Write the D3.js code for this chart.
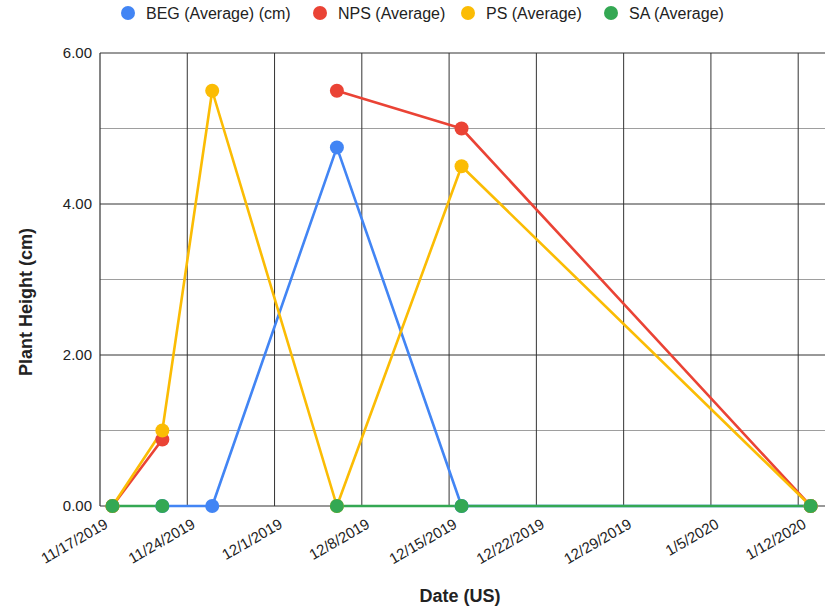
<!DOCTYPE html>
<html>
<head>
<meta charset="utf-8">
<script src="https://cdn.jsdelivr.net/npm/d3@7"></script>
<style>
  body { margin: 0; background: #fff; }
  svg { display: block; font-family: "Liberation Sans", Arial, sans-serif; }
</style>
</head>
<body>
<svg id="chart" width="827" height="609"></svg>
<script>
// Measurement dates (US format) and per-series averages; null = no reading
const dates = ["11/18/2019", "11/22/2019", "11/26/2019", "12/6/2019", "12/16/2019", "1/13/2020"];
const begValues = [null, 0, 0, 4.75, 0, 0];
const npsValues = [0, 0.88, null, 5.5, 5.0, 0];
const psValues  = [0, 1.0, 5.5, 0, 4.5, 0];
const saValues  = [0, 0, null, 0, 0, 0];

const seriesNames = ["BEG (Average) (cm)", "NPS (Average)", "PS (Average)", "SA (Average)"];
const seriesColors = ["#4285F4", "#EA4335", "#FBBC04", "#34A853"];

const xTickLabels = ["11/17/2019", "11/24/2019", "12/1/2019", "12/8/2019", "12/15/2019",
                     "12/22/2019", "12/29/2019", "1/5/2020", "1/12/2020"];
const yTickValues = [0, 2, 4, 6];
const yMinorValues = [1, 3, 5];

const parse = d3.timeParse("%m/%d/%Y");
const fmt = d3.timeFormat("%-m/%-d/%Y");

const svg = d3.select("#chart");
const plotLeft = 100, plotRight = 825, plotTop = 53, plotBottom = 506;

const xStart = parse("11/17/2019");
const xEnd = new Date(xStart.getTime() + 58.15 * 864e5);
const x = d3.scaleTime().domain([xStart, xEnd]).range([plotLeft, plotRight]);
const y = d3.scaleLinear().domain([0, 6]).range([plotBottom, plotTop]);

const tickDates = xTickLabels.map(parse);

// minor horizontal gridlines
svg.append("g").selectAll("line").data(yMinorValues).join("line")
  .attr("x1", plotLeft).attr("x2", plotRight)
  .attr("y1", d => y(d)).attr("y2", d => y(d))
  .attr("stroke", "#9e9e9e").attr("stroke-width", 1);

// major horizontal gridlines
svg.append("g").selectAll("line").data(yTickValues.filter(v => v !== 0)).join("line")
  .attr("x1", plotLeft).attr("x2", plotRight)
  .attr("y1", d => y(d)).attr("y2", d => y(d))
  .attr("stroke", "#333").attr("stroke-width", 1);

// vertical gridlines at weekly ticks
svg.append("g").selectAll("line").data(tickDates.slice(1)).join("line")
  .attr("x1", d => x(d)).attr("x2", d => x(d))
  .attr("y1", plotTop).attr("y2", plotBottom)
  .attr("stroke", "#333").attr("stroke-width", 1);

// axis baselines
svg.append("line").attr("x1", plotLeft).attr("x2", plotLeft).attr("y1", plotTop).attr("y2", plotBottom)
  .attr("stroke", "#333").attr("stroke-width", 1.2);
svg.append("line").attr("x1", plotLeft).attr("x2", plotRight).attr("y1", plotBottom).attr("y2", plotBottom)
  .attr("stroke", "#333").attr("stroke-width", 1.2);

// y tick labels
svg.append("g").selectAll("text").data(yTickValues).join("text")
  .attr("x", plotLeft - 8).attr("y", d => y(d) + 5)
  .attr("text-anchor", "end").attr("font-size", 15).attr("fill", "#222")
  .text(d => d.toFixed(2));

// x tick labels, slanted
svg.append("g").selectAll("text").data(tickDates).join("text")
  .attr("transform", d => `translate(${x(d) + 9},${plotBottom + 21}) rotate(-30)`)
  .attr("text-anchor", "end").attr("font-size", 15).attr("fill", "#222")
  .text(d => fmt(d));

// axis titles
svg.append("text")
  .attr("transform", `translate(32,302) rotate(-90)`)
  .attr("text-anchor", "middle").attr("font-size", 18).attr("font-weight", "bold").attr("fill", "#222")
  .text("Plant Height (cm)");
svg.append("text")
  .attr("x", 460).attr("y", 602)
  .attr("text-anchor", "middle").attr("font-size", 18).attr("font-weight", "bold").attr("fill", "#222")
  .text("Date (US)");

// series
const allValues = [begValues, npsValues, psValues, saValues];
const series = allValues.map((vals, i) => ({
  name: seriesNames[i],
  color: seriesColors[i],
  points: dates.map((d, j) => ({ date: parse(d), v: vals[j] }))
}));

const line = d3.line()
  .defined(d => d.v !== null)
  .x(d => x(d.date))
  .y(d => y(d.v));

svg.append("g").selectAll("path").data(series).join("path")
  .attr("d", s => line(s.points))
  .attr("fill", "none")
  .attr("stroke", s => s.color)
  .attr("stroke-width", 2.6)
  .attr("stroke-linejoin", "round");

const pointLayer = svg.append("g");
series.forEach(s => {
  pointLayer.append("g").selectAll("circle")
    .data(s.points.filter(p => p.v !== null)).join("circle")
    .attr("cx", p => x(p.date)).attr("cy", p => y(p.v))
    .attr("r", 7).attr("fill", s.color);
});

// legend
const legendX = [128, 320, 468, 611];
const legend = svg.append("g").selectAll("g").data(series).join("g")
  .attr("transform", (s, i) => `translate(${legendX[i]},13)`);
legend.append("circle").attr("r", 7).attr("fill", s => s.color);
legend.append("text").attr("x", 18).attr("y", 6)
  .attr("font-size", 16).attr("fill", "#222")
  .text(s => s.name);
</script>
</body>
</html>
